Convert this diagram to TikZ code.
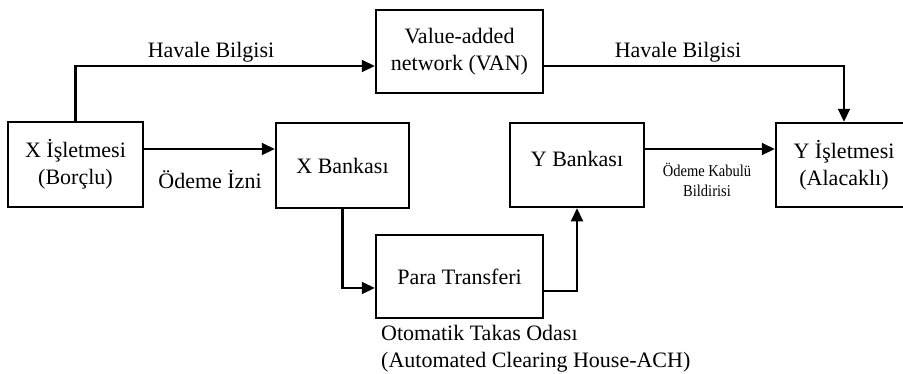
\documentclass[tikz,border=0pt]{standalone}
\usepackage{fontspec}
\setmainfont{Liberation Serif}
\newfontfamily\narrowserif[FakeStretch=0.88]{Liberation Serif}
\usetikzlibrary{arrows.meta}
\begin{document}
\begin{tikzpicture}[x=1pt,y=-1pt,
  box/.style={draw,line width=2.5pt,inner sep=0pt,align=center,
    font=\fontsize{22}{27}\selectfont},
  lbl/.style={inner sep=0pt,font=\fontsize{22}{27}\selectfont},
  smalllbl/.style={inner sep=0pt,align=center,
    font=\narrowserif\fontsize{16.5}{20}\selectfont},
  flow/.style={line width=2.1pt,-{Triangle[length=13pt,width=12pt]}},
]
\useasboundingbox (0,0) rectangle (903,373);
\begin{scope}
\clip (0,0) rectangle (903,373);
% boxes
\node[box,minimum width=135pt,minimum height=85pt] (xis) at (75.5,164.5)
  {X İşletmesi\\(Borçlu)};
\node[box,minimum width=133pt,minimum height=85pt] (xbank) at (342.5,165.5)
  {X Bankası};
\node[box,minimum width=167pt,minimum height=83pt] (van) at (459.5,51.5)
  {Value-added\\network (VAN)};
\node[box,minimum width=134pt,minimum height=84pt] (ybank) at (577,165) {};
\node[lbl] (ybanktext) at ([yshift=6pt]ybank.center) {Y Bankası};
\node[box,minimum width=136pt,minimum height=84pt] (yis) at (844,165)
  {Y İşletmesi\\(Alacaklı)};
\node[box,minimum width=167pt,minimum height=83pt] (para) at (459.5,276.5)
  {Para Transferi};

% connectors
\draw[flow] (xis.north) |- ([yshift=-14.5pt]van.west);
\draw[flow] ([yshift=-14.5pt]van.east) -| (yis.north);
\draw[flow] ([yshift=15.5pt]xis.east) coordinate (p1) -- (p1 -| xbank.west);
\draw[flow] (xbank.south) |- ([yshift=-11.5pt]para.west);
\draw[flow] ([yshift=-14.5pt]para.east) -| (ybank.south);
\draw[flow] ([yshift=16pt]ybank.east) coordinate (p2) -- (p2 -| yis.west);

% labels
\node[lbl,anchor=base] (hb1) at (211,57) {Havale Bilgisi};
\node[lbl,anchor=base] (hb2) at (678,57) {Havale Bilgisi};
\node[lbl,anchor=base] (oi) at (210,188) {Ödeme İzni};
\node[smalllbl] (okb) at (707,180) {Ödeme Kabulü\\Bildirisi};
\node[lbl,anchor=north west,align=left] (ach) at (381,325)
  {Otomatik Takas Odası\\(Automated Clearing House-ACH)};
\end{scope}
\end{tikzpicture}
\end{document}
